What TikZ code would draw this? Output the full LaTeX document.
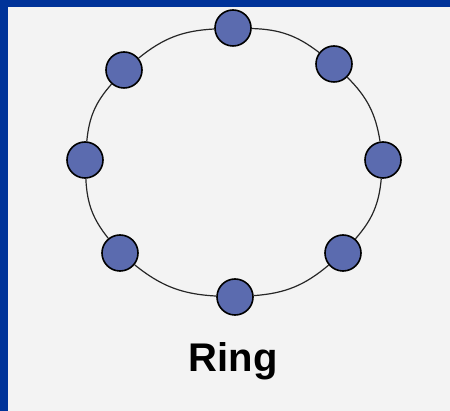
\documentclass[tikz,border=0pt]{standalone}
\usepackage{fontspec}
\setmainfont{Liberation Sans}
\definecolor{frameblue}{HTML}{003399}
\definecolor{paper}{HTML}{F3F3F3}
\definecolor{nodeblue}{HTML}{5B6BAF}
\begin{document}
\begin{tikzpicture}[x=1pt,y=-1pt,
        station/.style={circle,draw=black,line width=1.6pt,fill=nodeblue,minimum size=36pt,inner sep=0pt},
        link/.style={draw=black!85,line width=1.2pt}]
    
    % Background and frame
    \fill[paper] (0,0) rectangle (450,411);
    \fill[frameblue] (0,0) rectangle (450,7);
    \fill[frameblue] (0,0) rectangle (8,411);
    \useasboundingbox (0,0) rectangle (450,411);
    
    % Ring stations
    \node[station] (s1) at (233,28) {};
    \node[station] (s2) at (334,64) {};
    \node[station] (s3) at (383,160) {};
    \node[station] (s4) at (343,253) {};
    \node[station] (s5) at (235,297) {};
    \node[station] (s6) at (120,253) {};
    \node[station] (s7) at (85,160) {};
    \node[station] (s8) at (124,70) {};
    
    % Ring links
    \draw[link] (s1) to[bend left=18] (s2);
    \draw[link] (s2) to[bend left=18] (s3);
    \draw[link] (s3) to[bend left=18] (s4);
    \draw[link] (s4) to[bend left=18] (s5);
    \draw[link] (s5) to[bend left=18] (s6);
    \draw[link] (s6) to[bend left=18] (s7);
    \draw[link] (s7) to[bend left=18] (s8);
    \draw[link] (s8) to[bend left=18] (s1);
    
    % Caption
    \node[font=\fontsize{40}{42}\selectfont\bfseries,anchor=base] (title) at (233,372) {Ring};
    
\end{tikzpicture}
\end{document}
